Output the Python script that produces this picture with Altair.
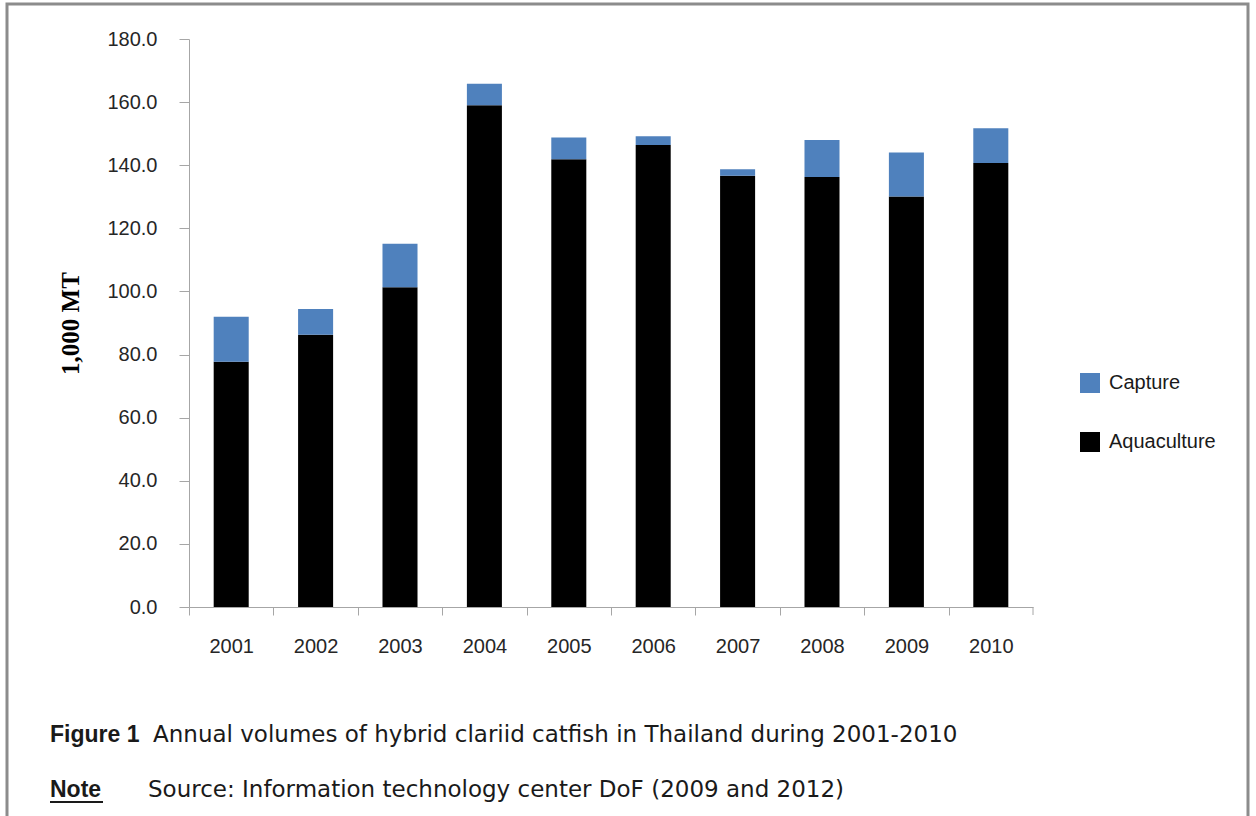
import altair as alt
import pandas as pd

# Annual volumes (thousand metric tonnes)
years = ["2001", "2002", "2003", "2004", "2005", "2006", "2007", "2008", "2009", "2010"]
aquaculture = [77.7, 86.3, 101.3, 159.0, 141.9, 146.4, 136.7, 136.3, 130.1, 140.7]
capture = [14.3, 8.1, 13.8, 6.8, 6.9, 2.8, 2.0, 11.7, 13.9, 11.0]

series_names = ["Capture", "Aquaculture"]
series_colors = ["#4F81BD", "#000000"]
y_ticks = [0, 20, 40, 60, 80, 100, 120, 140, 160, 180]

caption_head = "Figure 1"
caption_body = "Annual volumes of hybrid clariid catfish in Thailand during 2001-2010"
note_head = "Note"
note_body = "Source: Information technology center DoF (2009 and 2012)"

rows = []
for i, yr in enumerate(years):
    rows.append({"year": yr, "series": "Aquaculture", "value": aquaculture[i], "stack": 0})
    rows.append({"year": yr, "series": "Capture", "value": capture[i], "stack": 1})
df = pd.DataFrame(rows)

W, H = 844, 568
STEP = W / len(years)
SANS = "Liberation Sans"
AXIS_GREY = "#a6a6a6"
TEXT = "#262626"

bars = alt.Chart(df).mark_bar().encode(
    x=alt.X(
        "year:N",
        sort=years,
        scale=alt.Scale(paddingInner=0.585, paddingOuter=0.2925),
        axis=alt.Axis(
            title=None,
            labelAngle=0,
            labelFont=SANS,
            labelFontSize=20,
            labelColor=TEXT,
            labelPadding=21,
            tickSize=8,
            tickColor=AXIS_GREY,
            domainColor=AXIS_GREY,
            tickOffset=-STEP / 2,
            labelOffset=STEP / 2,
        ),
    ),
    y=alt.Y(
        "value:Q",
        stack="zero",
        scale=alt.Scale(domain=[0, 180], nice=False),
        axis=alt.Axis(
            values=y_ticks,
            format=".1f",
            grid=False,
            title="1,000 MT",
            titleFont="Liberation Serif",
            titleFontWeight="bold",
            titleFontSize=25,
            titleColor="#000000",
            titleAngle=270,
            titleAlign="center",
            titleBaseline="middle",
            titleX=-119,
            titleY=H / 2,
            labelFont=SANS,
            labelFontSize=20,
            labelColor=TEXT,
            labelPadding=22,
            tickSize=10,
            tickColor=AXIS_GREY,
            domainColor=AXIS_GREY,
        ),
    ),
    color=alt.Color(
        "series:N",
        scale=alt.Scale(domain=series_names, range=series_colors),
        legend=alt.Legend(
            title=None,
            orient="none",
            legendX=891,
            legendY=334,
            padding=0,
            symbolType="square",
            symbolSize=400,
            symbolStrokeWidth=0,
            labelFont=SANS,
            labelFontSize=20,
            labelColor="#1a1a1a",
            labelOffset=9,
            rowPadding=39,
        ),
    ),
    order=alt.Order("stack:Q"),
)

# closing tick at the right end of the category axis
end_tick = alt.Chart(pd.DataFrame({"k": [0]})).mark_rule(color=AXIS_GREY).encode(
    x=alt.value(W), y=alt.value(H), y2=alt.value(H + 8)
)

# outer frame around the figure
frame = alt.Chart(pd.DataFrame({"k": [0]})).mark_rect(
    fill=None, stroke="#8c8c8c", strokeWidth=3
).encode(
    x=alt.value(-182), x2=alt.value(1059), y=alt.value(-35), y2=alt.value(800)
)

def caption(text, x, y, font=SANS, bold=False, size=23):
    return alt.Chart(pd.DataFrame({"t": [text]})).mark_text(
        align="left", baseline="middle", font=font, fontSize=size,
        fontWeight="bold" if bold else "normal", color="#1a1a1a",
    ).encode(text="t:N", x=alt.value(x), y=alt.value(y))

cap1 = caption(caption_head, -139, 696, bold=True)
cap2 = caption(caption_body, -36, 696, font="DejaVu Sans", size=23)
note1 = caption(note_head, -139, 751, bold=True)
note2 = caption(note_body, -41, 751, font="DejaVu Sans", size=23)
underline = alt.Chart(pd.DataFrame({"k": [0]})).mark_rule(color="#1a1a1a", strokeWidth=2).encode(
    x=alt.value(-139), x2=alt.value(-86), y=alt.value(763)
)

chart = alt.layer(frame, bars, end_tick, cap1, cap2, note1, note2, underline).properties(
    width=W,
    height=H,
    autosize=alt.AutoSizeParams(type="none"),
    padding={"left": 189, "top": 39, "right": 223, "bottom": 209},
    background="white",
).configure_view(stroke=None)

chart.save("out.html", embed_options={"renderer": "svg", "actions": False})
